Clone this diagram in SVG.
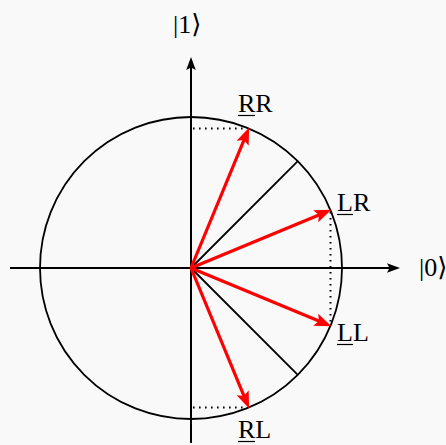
<svg xmlns="http://www.w3.org/2000/svg" width="446" height="445" viewBox="0 0 446 445">
<style>
.ax{stroke:#000;stroke-width:2;fill:none}
.thin{stroke:#000;stroke-width:1.8;fill:none}
.red{stroke:#ff0000;stroke-width:3.2;fill:none}
.dot{stroke:#000;stroke-width:2;fill:none;stroke-dasharray:1.6 4.4}
.ul{stroke:#000;stroke-width:1.2}
</style>
<defs>
<marker id="ab" markerUnits="userSpaceOnUse" markerWidth="14" markerHeight="12" viewBox="0 -6 14 12" refX="7" refY="0" orient="auto">
<path d="M0,-4.8 L13,0 L0,4.8 L2.5,0 z" fill="#000"/>
</marker>
<marker id="ar" markerUnits="userSpaceOnUse" markerWidth="18" markerHeight="14" viewBox="0 -7 18 14" refX="8" refY="0" orient="auto">
<path d="M0,-6.5 L17,0 L0,6.5 L3.5,0 z" fill="#ff0000"/>
</marker>
</defs>
<rect width="446" height="445" fill="#f9f9f9"/>
<g id="circle"><circle cx="191" cy="268" r="151" class="thin"/></g>
<g id="connectors">
<line x1="10" y1="268" x2="394" y2="268" class="ax" marker-end="url(#ab)"/>
<line x1="191" y1="443" x2="191" y2="63" class="ax" marker-end="url(#ab)"/>
<line x1="191" y1="268" x2="297.8" y2="161.2" class="thin"/>
<line x1="191" y1="268" x2="297.8" y2="374.8" class="thin"/>
<line x1="193" y1="128.5" x2="247" y2="128.5" class="dot"/>
<line x1="193" y1="407.5" x2="247" y2="407.5" class="dot"/>
<line x1="330.5" y1="212" x2="330.5" y2="325" class="dot"/>
<line x1="191" y1="268" x2="245.7" y2="135.9" class="red" marker-end="url(#ar)"/>
<line x1="191" y1="268" x2="323.1" y2="213.3" class="red" marker-end="url(#ar)"/>
<line x1="191" y1="268" x2="323.1" y2="322.7" class="red" marker-end="url(#ar)"/>
<line x1="191" y1="268" x2="245.7" y2="400.1" class="red" marker-end="url(#ar)"/>
</g>
<g id="labels" font-family="Liberation Serif, DejaVu Serif, serif" font-size="26" fill="#000">
<text x="173" y="33">|1⟩</text>
<text x="419" y="276">|0⟩</text>
<g id="RR"><text x="238" y="112">RR</text><line x1="238" y1="115.5" x2="255" y2="115.5" class="ul"/></g>
<g id="LR"><text x="337" y="211">LR</text><line x1="337" y1="214.5" x2="353" y2="214.5" class="ul"/></g>
<g id="LL"><text x="337" y="341">LL</text><line x1="337" y1="344.5" x2="353" y2="344.5" class="ul"/></g>
<g id="RL"><text x="238" y="438">RL</text><line x1="238" y1="441.5" x2="255" y2="441.5" class="ul"/></g>
</g>
</svg>
